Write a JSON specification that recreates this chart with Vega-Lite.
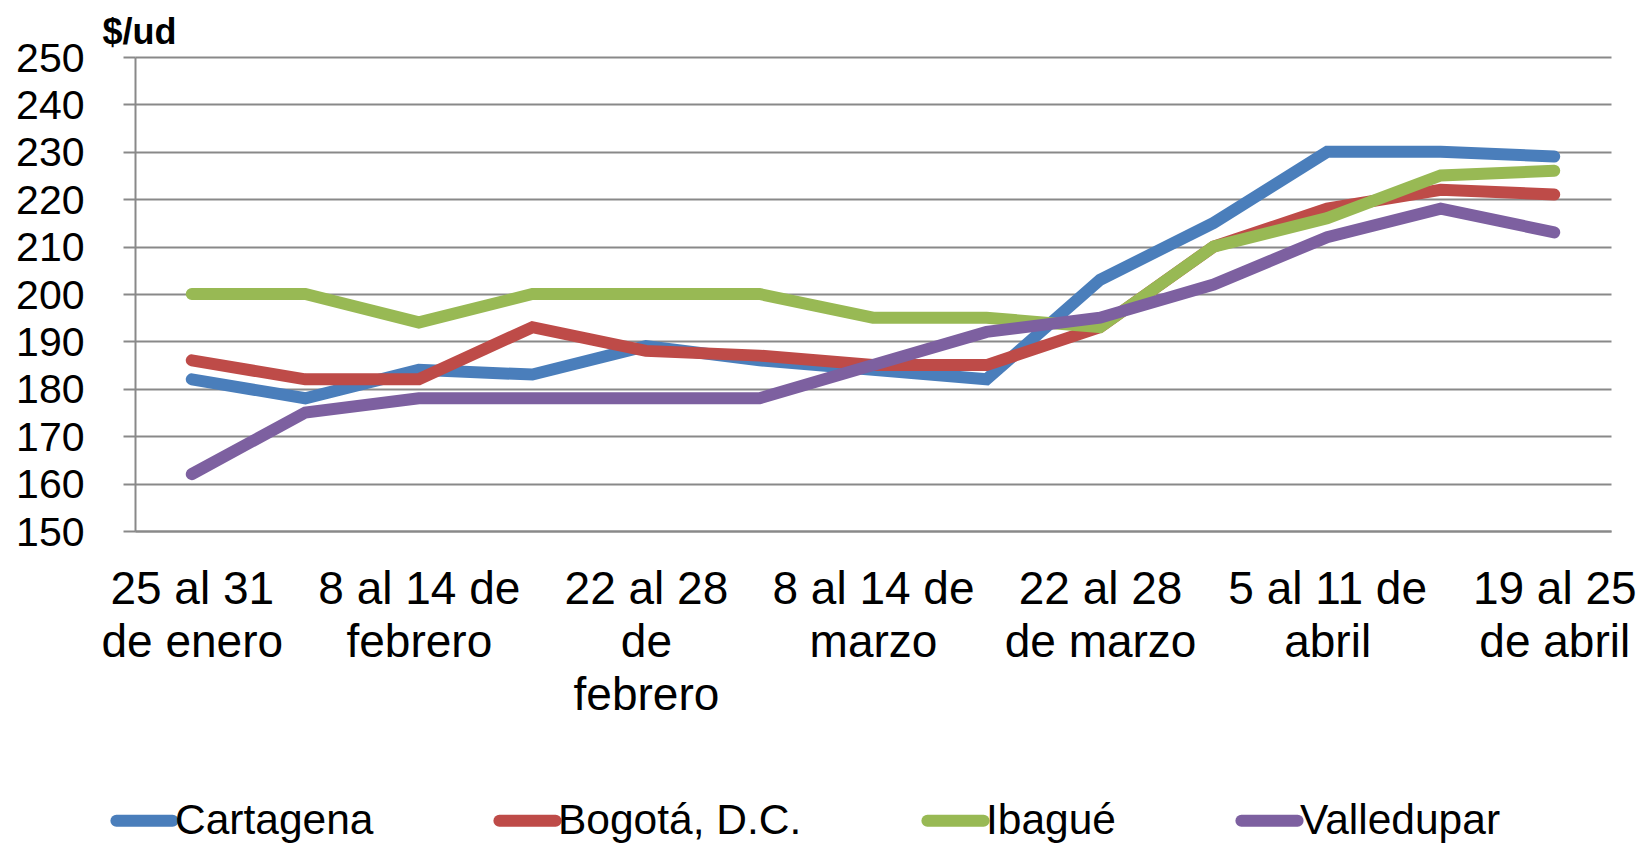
{
  "$schema": "https://vega.github.io/schema/vega-lite/v6.json",
  "width": 1476,
  "height": 474,
  "autosize": "none",
  "padding": {"left": 135, "top": 57, "right": 31, "bottom": 313},
  "background": "white",
  "config": {
    "view": {"stroke": null},
    "font": "Liberation Sans"
  },
  "data": {
    "values": [
      {"semana": "25 al 31 de enero", "ciudad": "Cartagena", "precio": 182},
      {"semana": "1 al 7 de febrero", "ciudad": "Cartagena", "precio": 178},
      {"semana": "8 al 14 de febrero", "ciudad": "Cartagena", "precio": 184},
      {"semana": "15 al 21 de febrero", "ciudad": "Cartagena", "precio": 183},
      {"semana": "22 al 28 de febrero", "ciudad": "Cartagena", "precio": 189},
      {"semana": "1 al 7 de marzo", "ciudad": "Cartagena", "precio": 186},
      {"semana": "8 al 14 de marzo", "ciudad": "Cartagena", "precio": 184},
      {"semana": "15 al 21 de marzo", "ciudad": "Cartagena", "precio": 182},
      {"semana": "22 al 28 de marzo", "ciudad": "Cartagena", "precio": 203},
      {"semana": "29 de marzo al 4 de abril", "ciudad": "Cartagena", "precio": 215},
      {"semana": "5 al 11 de abril", "ciudad": "Cartagena", "precio": 230},
      {"semana": "12 al 18 de abril", "ciudad": "Cartagena", "precio": 230},
      {"semana": "19 al 25 de abril", "ciudad": "Cartagena", "precio": 229},

      {"semana": "25 al 31 de enero", "ciudad": "Bogotá, D.C.", "precio": 186},
      {"semana": "1 al 7 de febrero", "ciudad": "Bogotá, D.C.", "precio": 182},
      {"semana": "8 al 14 de febrero", "ciudad": "Bogotá, D.C.", "precio": 182},
      {"semana": "15 al 21 de febrero", "ciudad": "Bogotá, D.C.", "precio": 193},
      {"semana": "22 al 28 de febrero", "ciudad": "Bogotá, D.C.", "precio": 188},
      {"semana": "1 al 7 de marzo", "ciudad": "Bogotá, D.C.", "precio": 187},
      {"semana": "8 al 14 de marzo", "ciudad": "Bogotá, D.C.", "precio": 185},
      {"semana": "15 al 21 de marzo", "ciudad": "Bogotá, D.C.", "precio": 185},
      {"semana": "22 al 28 de marzo", "ciudad": "Bogotá, D.C.", "precio": 193},
      {"semana": "29 de marzo al 4 de abril", "ciudad": "Bogotá, D.C.", "precio": 210},
      {"semana": "5 al 11 de abril", "ciudad": "Bogotá, D.C.", "precio": 218},
      {"semana": "12 al 18 de abril", "ciudad": "Bogotá, D.C.", "precio": 222},
      {"semana": "19 al 25 de abril", "ciudad": "Bogotá, D.C.", "precio": 221},

      {"semana": "25 al 31 de enero", "ciudad": "Ibagué", "precio": 200},
      {"semana": "1 al 7 de febrero", "ciudad": "Ibagué", "precio": 200},
      {"semana": "8 al 14 de febrero", "ciudad": "Ibagué", "precio": 194},
      {"semana": "15 al 21 de febrero", "ciudad": "Ibagué", "precio": 200},
      {"semana": "22 al 28 de febrero", "ciudad": "Ibagué", "precio": 200},
      {"semana": "1 al 7 de marzo", "ciudad": "Ibagué", "precio": 200},
      {"semana": "8 al 14 de marzo", "ciudad": "Ibagué", "precio": 195},
      {"semana": "15 al 21 de marzo", "ciudad": "Ibagué", "precio": 195},
      {"semana": "22 al 28 de marzo", "ciudad": "Ibagué", "precio": 193},
      {"semana": "29 de marzo al 4 de abril", "ciudad": "Ibagué", "precio": 210},
      {"semana": "5 al 11 de abril", "ciudad": "Ibagué", "precio": 216},
      {"semana": "12 al 18 de abril", "ciudad": "Ibagué", "precio": 225},
      {"semana": "19 al 25 de abril", "ciudad": "Ibagué", "precio": 226},

      {"semana": "25 al 31 de enero", "ciudad": "Valledupar", "precio": 162},
      {"semana": "1 al 7 de febrero", "ciudad": "Valledupar", "precio": 175},
      {"semana": "8 al 14 de febrero", "ciudad": "Valledupar", "precio": 178},
      {"semana": "15 al 21 de febrero", "ciudad": "Valledupar", "precio": 178},
      {"semana": "22 al 28 de febrero", "ciudad": "Valledupar", "precio": 178},
      {"semana": "1 al 7 de marzo", "ciudad": "Valledupar", "precio": 178},
      {"semana": "8 al 14 de marzo", "ciudad": "Valledupar", "precio": 185},
      {"semana": "15 al 21 de marzo", "ciudad": "Valledupar", "precio": 192},
      {"semana": "22 al 28 de marzo", "ciudad": "Valledupar", "precio": 195},
      {"semana": "29 de marzo al 4 de abril", "ciudad": "Valledupar", "precio": 202},
      {"semana": "5 al 11 de abril", "ciudad": "Valledupar", "precio": 212},
      {"semana": "12 al 18 de abril", "ciudad": "Valledupar", "precio": 218},
      {"semana": "19 al 25 de abril", "ciudad": "Valledupar", "precio": 213}
    ]
  },
  "mark": {"type": "line", "strokeWidth": 12, "strokeCap": "round", "strokeJoin": "miter"},
  "encoding": {
    "x": {
      "field": "semana",
      "type": "nominal",
      "sort": null,
      "scale": {"type": "point", "padding": 0.5},
      "axis": {
        "title": null,
        "values": ["25 al 31 de enero", "8 al 14 de febrero", "22 al 28 de febrero", "8 al 14 de marzo", "22 al 28 de marzo", "5 al 11 de abril", "19 al 25 de abril"],
        "labelExpr": "datum.value == '25 al 31 de enero' ? ['25 al 31', 'de enero'] : datum.value == '8 al 14 de febrero' ? ['8 al 14 de', 'febrero'] : datum.value == '22 al 28 de febrero' ? ['22 al 28', 'de', 'febrero'] : datum.value == '8 al 14 de marzo' ? ['8 al 14 de', 'marzo'] : datum.value == '22 al 28 de marzo' ? ['22 al 28', 'de marzo'] : datum.value == '5 al 11 de abril' ? ['5 al 11 de', 'abril'] : ['19 al 25', 'de abril']",
        "labelAngle": 0,
        "labelFont": "Liberation Sans",
        "labelFontSize": 46,
        "labelColor": "#000000",
        "labelLineHeight": 53.4,
        "labelBaseline": "top",
        "labelAlign": "center",
        "labelPadding": 36,
        "labelLimit": 1000,
        "labelOverlap": false,
        "labelBound": false,
        "labelFlush": false,
        "ticks": false,
        "tickSize": 0,
        "domain": true,
        "domainColor": "#898989",
        "domainWidth": 2,
        "grid": false,
        "zindex": 0
      }
    },
    "y": {
      "field": "precio",
      "type": "quantitative",
      "scale": {"domain": [150, 250], "nice": false, "zero": false},
      "axis": {
        "title": "$/ud",
        "titleAngle": 0,
        "titleFont": "Liberation Sans",
        "titleFontSize": 36,
        "titleFontWeight": "bold",
        "titleColor": "#000000",
        "titleAlign": "left",
        "titleBaseline": "alphabetic",
        "titleX": -33,
        "titleY": -14,
        "values": [150, 160, 170, 180, 190, 200, 210, 220, 230, 240, 250],
        "labelFont": "Liberation Sans",
        "labelFontSize": 41,
        "labelColor": "#000000",
        "labelPadding": 39,
        "labelBaseline": "middle",
        "labelOffset": 2,
        "labelBound": false,
        "labelFlush": false,
        "labelOverlap": false,
        "ticks": true,
        "tickSize": 12,
        "tickColor": "#898989",
        "tickWidth": 2,
        "domain": true,
        "domainColor": "#898989",
        "domainWidth": 2,
        "grid": true,
        "gridColor": "#898989",
        "gridWidth": 2,
        "zindex": 0
      }
    },
    "color": {
      "field": "ciudad",
      "type": "nominal",
      "sort": ["Cartagena", "Bogotá, D.C.", "Ibagué", "Valledupar"],
      "scale": {
        "domain": ["Cartagena", "Bogotá, D.C.", "Ibagué", "Valledupar"],
        "range": ["#4A7EBB", "#BE4B48", "#98B954", "#7D60A0"]
      },
      "legend": {
        "title": null,
        "orient": "none",
        "direction": "horizontal",
        "columns": 4,
        "legendX": -25,
        "legendY": 729,
        "padding": 0,
        "symbolType": "stroke",
        "symbolSize": 3158,
        "symbolStrokeWidth": 12,
        "labelFont": "Liberation Sans",
        "labelFontSize": 42.5,
        "labelColor": "#000000",
        "labelOffset": -4,
        "labelLimit": 1000,
        "columnPadding": 101,
        "labelBaseline": "middle",
        "encode": {"symbols": {"update": {"strokeCap": {"value": "round"}}}}
      }
    }
  }
}
